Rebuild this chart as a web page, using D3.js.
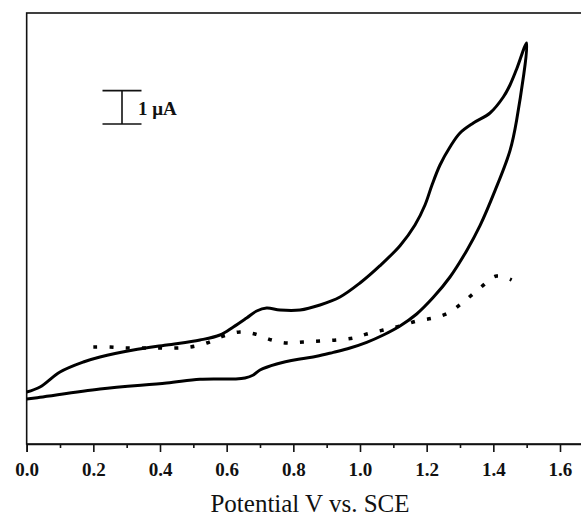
<!DOCTYPE html>
<html>
<head>
<meta charset="utf-8">
<script src="https://cdn.jsdelivr.net/npm/d3@7"></script>
<style>
  html, body { margin: 0; padding: 0; background: #fff; }
  svg { display: block; }
  .tick text { font-family: "Liberation Serif", "Times New Roman", serif; font-weight: bold; }
</style>
</head>
<body>
<div id="chart"></div>
<script>
// potential (V vs. SCE) and current (uA)
// forward scan, 0.0 -> 1.5 V
const fwdV = [0.00, 0.04, 0.22, 0.42, 0.52, 0.62, 0.655, 0.68, 0.70, 0.75, 0.82, 0.87, 0.92, 0.97, 1.02, 1.07, 1.12, 1.17, 1.22, 1.27, 1.32, 1.36, 1.405, 1.45, 1.47, 1.50];
const fwdI = [1.35, 1.40, 1.65, 1.83, 1.94, 1.95, 1.98, 2.07, 2.22, 2.40, 2.55, 2.63, 2.75, 2.88, 3.05, 3.27, 3.54, 3.90, 4.40, 5.01, 5.80, 6.55, 7.60, 8.80, 9.72, 12.03];
// reverse scan, 1.5 -> 0.0 V
const revV = [1.47, 1.45, 1.43, 1.39, 1.34, 1.30, 1.27, 1.24, 1.216, 1.195, 1.165, 1.12, 1.06, 1.00, 0.94, 0.88, 0.82, 0.76, 0.72, 0.69, 0.66, 0.62, 0.58, 0.52, 0.42, 0.32, 0.22, 0.17, 0.10, 0.04, 0.00];
const revI = [11.25, 10.77, 10.41, 9.93, 9.63, 9.33, 8.91, 8.37, 7.77, 7.17, 6.57, 5.95, 5.35, 4.83, 4.41, 4.17, 4.02, 4.02, 4.08, 3.99, 3.78, 3.51, 3.27, 3.12, 2.97, 2.82, 2.61, 2.46, 2.16, 1.71, 1.56];
// dotted trace
const dotV = [0.20, 0.25, 0.30, 0.35, 0.395, 0.445, 0.49, 0.54, 0.59, 0.64, 0.685, 0.735, 0.78, 0.83, 0.88, 0.93, 0.98, 1.02, 1.07, 1.12, 1.17, 1.22, 1.265, 1.31, 1.36, 1.41, 1.455];
const dotI = [2.91, 2.91, 2.88, 2.88, 2.88, 2.88, 2.91, 3.03, 3.24, 3.36, 3.30, 3.12, 3.03, 3.06, 3.09, 3.12, 3.18, 3.30, 3.42, 3.54, 3.69, 3.78, 3.93, 4.26, 4.68, 5.04, 4.92];

const majorTicks = [0.0, 0.2, 0.4, 0.6, 0.8, 1.0, 1.2, 1.4, 1.6];
const minorTicks = [0.1, 0.3, 0.5, 0.7, 0.9, 1.1, 1.3, 1.5, 1.7];
const xTitle = "Potential V vs. SCE";
const barLabel = "1 \u03BCA";
const barI = [9.6, 10.6];   // scale bar, 1 uA
const barV = 0.286;

const width = 581, height = 518;
const svg = d3.select("#chart").append("svg")
    .attr("width", width)
    .attr("height", height);

const x = d3.scaleLinear().domain([0, 1.7]).range([26.67, 593.33]);
const y = d3.scaleLinear().domain([0, 12.93]).range([444, 13]);

//frame
svg.append("rect")
    .attr("x", x(0)).attr("y", y(12.93))
    .attr("width", x(1.7) - x(0)).attr("height", y(0) - y(12.93))
    .attr("fill", "none").attr("stroke", "#111").attr("stroke-width", 1.6);

//x axis
const gx = svg.append("g").attr("transform", `translate(0,${y(0)})`);
gx.call(d3.axisBottom(x).tickValues(minorTicks).tickSize(4).tickFormat(""))
    .call(g => g.select(".domain").remove());
gx.append("g").call(d3.axisBottom(x).tickValues(majorTicks).tickSize(8).tickPadding(11).tickFormat(d3.format(".1f")))
    .call(g => g.select(".domain").attr("stroke-width", 1.6).attr("stroke", "#111"))
    .call(g => g.selectAll(".tick text").attr("font-size", 19).attr("fill", "#111"));
gx.selectAll(".tick line").attr("stroke", "#111").attr("stroke-width", 1.6);

svg.append("text")
    .attr("x", 310).attr("y", 512)
    .attr("text-anchor", "middle")
    .attr("font-family", "'Liberation Serif', 'Times New Roman', serif")
    .attr("font-size", 25)
    .attr("fill", "#111")
    .text(xTitle);

//curves
const line = d3.line()
    .x(d => x(d[0]))
    .y(d => y(d[1]))
    .curve(d3.curveCatmullRom.alpha(0.5));

const loop = fwdV.map((v, i) => [v, fwdI[i]]).concat(revV.map((v, i) => [v, revI[i]]));
svg.append("path")
    .attr("d", line(loop))
    .attr("fill", "none").attr("stroke", "#000")
    .attr("stroke-width", 3).attr("stroke-linejoin", "round");

svg.append("path")
    .attr("d", line(dotV.map((v, i) => [v, dotI[i]])))
    .attr("fill", "none").attr("stroke", "#000")
    .attr("stroke-width", 3.5)
    .attr("stroke-dasharray", "4,12.2");

//scale bar
const bx = x(barV), half = 19.5;
const bar = svg.append("g").attr("stroke", "#111").attr("stroke-width", 1.6);
bar.append("line").attr("x1", bx).attr("x2", bx).attr("y1", y(barI[0])).attr("y2", y(barI[1]));
barI.forEach(v => bar.append("line")
    .attr("x1", bx - half).attr("x2", bx + half)
    .attr("y1", y(v)).attr("y2", y(v)));
svg.append("text")
    .attr("x", bx + 16).attr("y", y(barI[0]) - 9)
    .attr("font-family", "'Liberation Serif', 'Times New Roman', serif")
    .attr("font-weight", "bold")
    .attr("font-size", 19)
    .attr("fill", "#111")
    .text(barLabel);
</script>
</body>
</html>
